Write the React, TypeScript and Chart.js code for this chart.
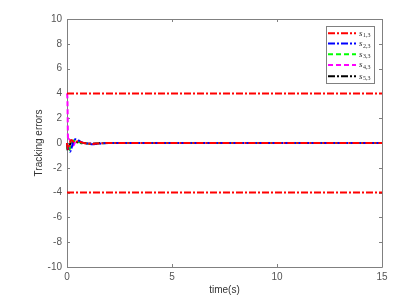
import React, { useEffect, useRef } from "react";
import { Chart, registerables } from "chart.js";

Chart.register(...registerables);

const times = [0, 0.02, 0.05, 0.1, 0.15, 0.2, 0.25, 0.3, 0.4, 0.5, 0.6, 0.7, 0.8, 1.0, 1.2, 1.4, 1.7, 2, 3, 4, 6, 8, 10, 12, 15];
const s13 = [0, -0.3, -0.5, -0.3, 0.1, 0.25, 0.2, 0.1, 0.05, 0.15, 0.1, 0.05, 0, -0.05, -0.08, -0.05, -0.02, 0, 0, 0, 0, 0, 0, 0, 0];
const s23 = [0, -0.2, -0.4, -0.6, -0.7, -0.5, -0.2, 0.1, 0.3, 0.25, 0.15, 0.05, 0, -0.05, -0.1, -0.08, -0.03, 0, 0, 0, 0, 0, 0, 0, 0];
const s33 = [0, -0.3, -0.5, -0.6, -0.4, -0.1, 0.15, 0.2, 0.15, 0.1, 0.05, 0.02, 0, -0.05, -0.08, -0.05, -0.02, 0, 0, 0, 0, 0, 0, 0, 0];
const s43 = [4, 3.6, 0.2, 0.3, 0.2, 0.1, -0.2, -0.2, 0.1, 0.15, 0.1, 0.05, 0, -0.03, -0.05, -0.03, 0, 0, 0, 0, 0, 0, 0, 0, 0];
const s53 = [0, -0.5, -0.6, -0.3, -0.1, 0.05, 0.1, 0.15, 0.1, 0.05, 0, -0.02, 0, -0.03, -0.05, -0.03, 0, 0, 0, 0, 0, 0, 0, 0, 0];
const boundTimes = [0, 15];
const upperBound = [4, 4];
const lowerBound = [-4, -4];
const xTicks = [0, 5, 10, 15];
const yTicks = [-10, -8, -6, -4, -2, 0, 2, 4, 6, 8, 10];
const legendLabels = ["1,3", "2,3", "3,3", "4,3", "5,3"];

const dashDot = [7, 2, 2, 2];
const dashed = [5, 3];

const seriesStyles = [
  { color: "#ff0000", dash: dashDot },
  { color: "#0000ff", dash: dashDot },
  { color: "#00ff00", dash: dashed },
  { color: "#ff00ff", dash: dashed },
  { color: "#000000", dash: dashDot },
];

const axisColor = "#808080";

const boxPlugin = {
  id: "boxPlugin",
  beforeDatasetsDraw(chart: any) {
    const { ctx, chartArea } = chart;
    const { left, right, top, bottom } = chartArea;
    const xs = chart.scales.x;
    const ys = chart.scales.y;
    ctx.save();
    ctx.strokeStyle = axisColor;
    ctx.lineWidth = 1;
    ctx.setLineDash([]);
    ctx.beginPath();
    ctx.rect(Math.round(left) + 0.5, Math.round(top) + 0.5, Math.round(right - left), Math.round(bottom - top));
    ctx.stroke();
    const tl = 3;
    ctx.beginPath();
    for (const v of xTicks) {
      const px = Math.round(xs.getPixelForValue(v)) + 0.5;
      ctx.moveTo(px, bottom);
      ctx.lineTo(px, bottom - tl);
      ctx.moveTo(px, top);
      ctx.lineTo(px, top + tl);
    }
    for (const v of yTicks) {
      const py = Math.round(ys.getPixelForValue(v)) + 0.5;
      ctx.moveTo(left, py);
      ctx.lineTo(left + tl, py);
      ctx.moveTo(right, py);
      ctx.lineTo(right - tl, py);
    }
    ctx.stroke();
    ctx.restore();
  },
  afterDatasetsDraw(chart: any) {
    const { ctx } = chart;
    ctx.save();
    const lx = 326, ly = 26, lw = 48, lh = 57;
    ctx.fillStyle = "#ffffff";
    ctx.fillRect(lx, ly, lw, lh);
    ctx.strokeStyle = axisColor;
    ctx.lineWidth = 1;
    ctx.strokeRect(lx + 0.5, ly + 0.5, lw, lh);
    const rows = [33.3, 43.5, 54.3, 65, 76.3];
    seriesStyles.forEach((st, i) => {
      const y = rows[i];
      ctx.strokeStyle = st.color;
      ctx.lineWidth = 2;
      ctx.setLineDash(st.dash);
      ctx.beginPath();
      ctx.moveTo(328, y);
      ctx.lineTo(356, y);
      ctx.stroke();
      ctx.setLineDash([]);
      ctx.fillStyle = "#333333";
      ctx.textBaseline = "middle";
      ctx.textAlign = "left";
      ctx.font = "italic 9px 'Liberation Serif', serif";
      ctx.fillText("s", 359, y);
      ctx.font = "6px 'Liberation Serif', serif";
      ctx.fillText(legendLabels[i], 363, y + 2.5);
    });
    ctx.restore();
  },
};

function mk(label: string, xs: number[], ys: number[], color: string, dash: number[]) {
  return {
    label,
    data: xs.map((x, i) => ({ x, y: ys[i] })),
    borderColor: color,
    backgroundColor: color,
    borderWidth: 2,
    borderDash: dash,
    pointRadius: 0,
    fill: false,
    cubicInterpolationMode: "monotone",
    clip: 2,
  };
}

export default function App() {
  const ref = useRef<HTMLCanvasElement | null>(null);
  useEffect(() => {
    document.body.style.margin = "0";
    const canvas = ref.current!;
    const series = [s13, s23, s33, s43, s53];
    const datasets: any[] = [
      mk("upper", boundTimes, upperBound, "#ff0000", dashDot),
      mk("lower", boundTimes, lowerBound, "#ff0000", dashDot),
      ...series.map((s, i) => mk("s" + legendLabels[i], times, s, seriesStyles[i].color, seriesStyles[i].dash)),
    ];
    const chart = new Chart(canvas, {
      type: "line",
      data: { datasets },
      options: {
        animation: false,
        responsive: false,
        devicePixelRatio: 1,
        layout: { padding: { left: 0, right: 31, top: 19, bottom: 0 } },
        plugins: { legend: { display: false }, tooltip: { enabled: false } },
        scales: {
          x: {
            type: "linear",
            min: 0,
            max: 15,
            afterBuildTicks: (s: any) => { s.ticks = xTicks.map((v) => ({ value: v })); },
            afterFit: (s: any) => { s.height = 31; },
            grid: { display: false, drawTicks: false },
            border: { display: false },
            ticks: { color: "#555555", font: { size: 10, family: "'Liberation Sans', Arial, sans-serif" }, padding: 4, maxRotation: 0 },
            title: { display: true, text: "time(s)", color: "#333333", font: { size: 10, family: "'Liberation Sans', Arial, sans-serif" }, padding: { top: 0, bottom: 2 } },
          },
          y: {
            type: "linear",
            min: -10,
            max: 10,
            afterBuildTicks: (s: any) => { s.ticks = yTicks.map((v) => ({ value: v })); },
            afterFit: (s: any) => { s.width = 67; },
            grid: { display: false, drawTicks: false },
            border: { display: false },
            ticks: { color: "#555555", font: { size: 10, family: "'Liberation Sans', Arial, sans-serif" }, padding: 5 },
            title: { display: true, text: "Tracking errors", color: "#333333", font: { size: 10, family: "'Liberation Sans', Arial, sans-serif" }, padding: { top: 33, bottom: 0 } },
          },
        },
      },
      plugins: [boxPlugin],
    });
    return () => chart.destroy();
  }, []);
  return (
    <div style={{ width: 413, height: 298, background: "#fff" }}>
      <canvas ref={ref} width={413} height={298} style={{ display: "block" }} />
    </div>
  );
}
